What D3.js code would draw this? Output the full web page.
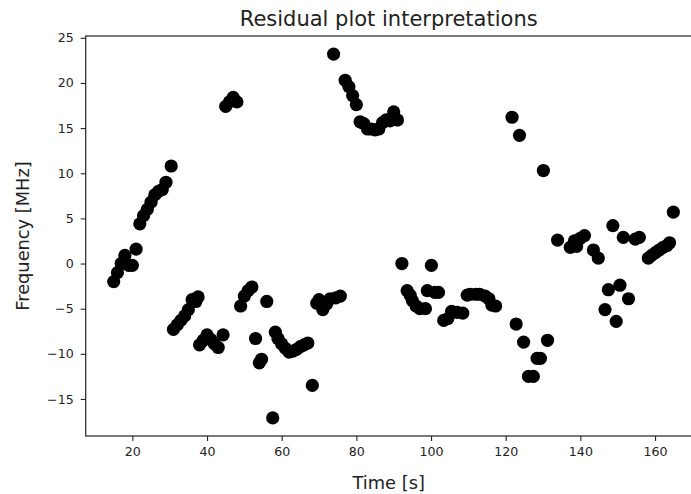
<!DOCTYPE html>
<html>
<head>
<meta charset="utf-8">
<script src="https://cdn.jsdelivr.net/npm/d3@7"></script>
<style>
  html, body { margin: 0; padding: 0; background: #fff; }
  svg { display: block; font-family: "DejaVu Sans", sans-serif; }
</style>
</head>
<body>
<svg id="chart" width="691" height="494"></svg>
<script>
// Residual measurements: time in seconds and frequency residual in MHz
const timeS = [
  15, 16, 17, 18, 19, 20, 21, 22, 23, 24, 25, 26, 27, 28, 29, 30.4,
  31, 32, 33, 34, 35, 36, 37, 37.6, 38, 39, 40, 41, 42, 43, 44.3,
  45, 46, 47, 48, 49, 50, 51, 52, 53, 54, 54.6, 56, 57.6,
  58.3, 59, 60, 61, 62, 63, 64, 65, 66, 67, 68.2,
  69.4, 70, 71, 72, 73, 73.9, 74.5, 75.7,
  77, 78, 79, 80, 81, 82, 83, 84, 85, 86, 87, 88, 89, 90, 91,
  92.2, 93.6, 94.4, 95, 96, 97, 98.5, 99, 100.1, 101, 102,
  103.4, 104.5, 105.5, 107, 108.5, 109.7, 110.5, 112, 113, 114.5, 115.5, 116.3, 117.3,
  121.7, 122.8, 123.7, 124.8, 126.1, 127.4, 128.4, 129.3, 130.1, 131.2,
  133.9, 137.3, 138.4, 139, 140, 141.1, 143.5, 144.8,
  146.6, 147.5, 148.7, 149.6, 150.6, 151.5, 152.9, 154.7, 155.8,
  158.2, 159.1, 160.1, 161.1, 162.2, 163.2, 163.9, 164.9
];
const freqMHz = [
  -2.0, -1.0, 0.0, 0.9, -0.2, -0.2, 1.6, 4.4, 5.3, 6.0, 6.8, 7.6, 8.0, 8.2, 9.0, 10.8,
  -7.3, -6.8, -6.3, -5.8, -5.1, -4.0, -4.2, -3.7, -9.0, -8.5, -7.9, -8.4, -8.9, -9.3, -7.9,
  17.4, 17.9, 18.4, 17.9, -4.7, -3.6, -3.0, -2.6, -8.3, -11.0, -10.6, -4.2, -17.1,
  -7.6, -8.3, -8.9, -9.4, -9.8, -9.7, -9.5, -9.2, -9.0, -8.8, -13.5,
  -4.4, -4.0, -5.1, -4.5, -3.9, 23.2, -3.8, -3.6,
  20.3, 19.6, 18.6, 17.6, 15.7, 15.5, 14.9, 14.9, 14.8, 14.9, 15.6, 15.9, 15.8, 16.8, 15.9,
  0.0, -3.0, -3.5, -4.1, -4.7, -5.0, -5.0, -3.0, -0.2, -3.2, -3.2,
  -6.3, -6.1, -5.3, -5.4, -5.5, -3.5, -3.4, -3.4, -3.4, -3.6, -3.9, -4.6, -4.7,
  16.2, -6.7, 14.2, -8.7, -12.5, -12.5, -10.5, -10.5, 10.3, -8.5,
  2.6, 1.8, 2.5, 1.9, 2.8, 3.1, 1.5, 0.6,
  -5.1, -2.9, 4.2, -6.4, -2.4, 2.9, -3.9, 2.7, 2.9,
  0.6, 0.9, 1.2, 1.5, 1.8, 2.0, 2.3, 5.7
];
const xTicks = [20, 40, 60, 80, 100, 120, 140, 160];
const yTicks = [-15, -10, -5, 0, 5, 10, 15, 20, 25];

const svg = d3.select("#chart");
const plot = { left: 85.7, top: 36, right: 701.7, bottom: 436 };

const x = d3.scaleLinear().domain([7.5, 172.5]).range([plot.left, plot.right]);
const y = d3.scaleLinear().domain([-19.1, 25.2]).range([plot.bottom, plot.top]);

// Points
svg.append("g")
  .selectAll("circle")
  .data(timeS.map((t, i) => [t, freqMHz[i]]))
  .join("circle")
  .attr("cx", d => x(d[0]))
  .attr("cy", d => y(d[1]))
  .attr("r", 6.6)
  .attr("fill", "#000");

// Axes
const fmt = d => d < 0 ? "\u2212" + Math.abs(d) : String(d);

const xAxis = svg.append("g")
  .attr("transform", `translate(0,${plot.bottom})`)
  .call(d3.axisBottom(x).tickValues(xTicks).tickFormat(fmt).tickSizeInner(5).tickSizeOuter(0).tickPadding(6));
const yAxis = svg.append("g")
  .attr("transform", `translate(${plot.left},0)`)
  .call(d3.axisLeft(y).tickValues(yTicks).tickFormat(fmt).tickSizeInner(5).tickSizeOuter(0).tickPadding(7));

[xAxis, yAxis].forEach(g => {
  g.select(".domain").remove();
  g.selectAll("line").attr("stroke", "#222").attr("stroke-width", 1.1);
  g.selectAll("text").attr("fill", "#222").style("font-size", "12.6px").style("font-family", "DejaVu Sans");
});

// Frame
svg.append("rect")
  .attr("x", plot.left).attr("y", plot.top)
  .attr("width", plot.right - plot.left).attr("height", plot.bottom - plot.top)
  .attr("fill", "none").attr("stroke", "#222").attr("stroke-width", 1.2);

// Labels and title
svg.append("text")
  .attr("x", (plot.left + plot.right) / 2 - 5).attr("y", 489)
  .attr("text-anchor", "middle").attr("fill", "#222")
  .style("font-size", "17.8px").text("Time [s]");

svg.append("text")
  .attr("transform", `translate(29,${(plot.top + plot.bottom) / 2}) rotate(-90)`)
  .attr("text-anchor", "middle").attr("fill", "#222")
  .style("font-size", "17.8px").text("Frequency [MHz]");

svg.append("text")
  .attr("x", (plot.left + plot.right) / 2 - 5).attr("y", 26)
  .attr("text-anchor", "middle").attr("fill", "#222")
  .style("font-size", "21px").text("Residual plot interpretations");
</script>
</body>
</html>
